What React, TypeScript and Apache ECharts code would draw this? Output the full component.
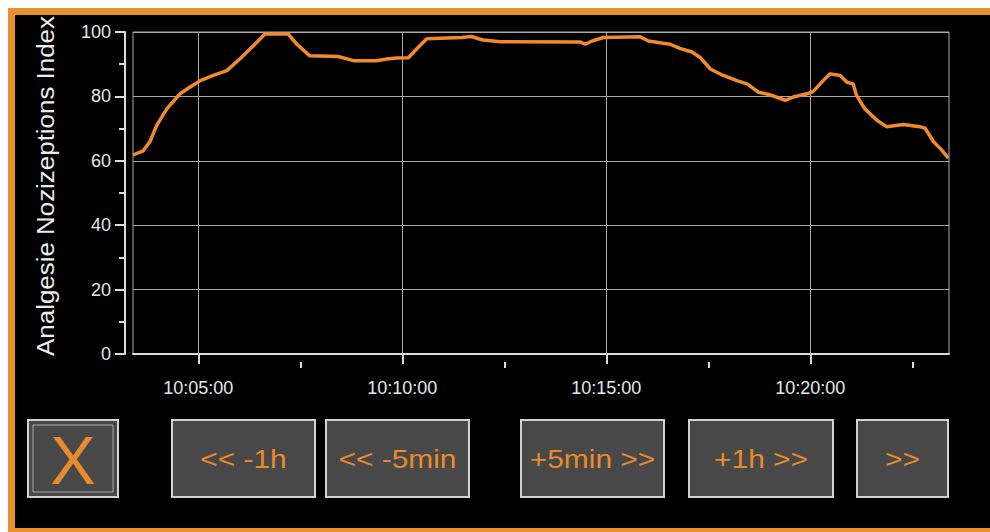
import React, { useEffect, useRef } from "react";
import * as echarts from "echarts";

// ---- data ----
const sampleTimes = [
  "10:03:24", "10:03:39", "10:03:49", "10:03:59", "10:04:14", "10:04:33", "10:04:48",
  "10:05:03", "10:05:22", "10:05:42", "10:06:01", "10:06:21", "10:06:38", "10:07:12",
  "10:07:25", "10:07:44", "10:08:26", "10:08:48", "10:09:22", "10:09:37", "10:09:52",
  "10:10:09", "10:10:21", "10:10:36", "10:11:27", "10:11:42", "10:11:52", "10:11:59",
  "10:12:24", "10:14:21", "10:14:29", "10:14:39", "10:14:56", "10:15:50", "10:16:02",
  "10:16:24", "10:16:34", "10:16:48", "10:17:06", "10:17:18", "10:17:33", "10:17:52",
  "10:18:12", "10:18:27", "10:18:44", "10:19:01", "10:19:23", "10:19:35", "10:19:55",
  "10:20:04", "10:20:19", "10:20:29", "10:20:44", "10:20:54", "10:21:03", "10:21:08",
  "10:21:20", "10:21:38", "10:21:52", "10:22:17", "10:22:41", "10:22:49", "10:23:01",
  "10:23:13", "10:23:23",
];
const aniValues = [
  61.8, 63.1, 66.0, 71.1, 76.2, 80.8, 82.9,
  84.9, 86.5, 88.0, 91.6, 95.7, 99.4, 99.4,
  96.2, 92.6, 92.4, 91.1, 91.1, 91.6, 91.9,
  92.0, 94.7, 97.9, 98.3, 98.6, 97.9, 97.5,
  97.0, 96.9, 96.2, 97.2, 98.3, 98.5, 97.2,
  96.5, 96.2, 94.9, 93.8, 92.1, 88.5, 86.5,
  84.9, 83.9, 81.3, 80.5, 78.8, 79.8, 80.8,
  81.5, 84.9, 87.0, 86.5, 84.4, 83.9, 80.3,
  76.2, 72.6, 70.6, 71.3, 70.6, 70.1, 66.0,
  63.4, 60.8,
];
const axisStart = "10:03:24";
const axisEnd = "10:23:24";
const majorTickTimes = ["10:05:00", "10:10:00", "10:15:00", "10:20:00"];
const minorTickTimes = ["10:07:30", "10:12:30", "10:17:30", "10:22:30"];
const yMin = 0;
const yMax = 100;
const yStep = 20;
const yAxisTitle = "Analgesie Nozizeptions Index";
const closeLabel = "X";
const navLabels = ["<< -1h", "<< -5min", "+5min >>", "+1h >>", ">>"];

// ---- helpers ----
const toSec = (t: string) => {
  const [h, m, s] = t.split(":").map(Number);
  return h * 3600 + m * 60 + s;
};
const pad = (n: number) => (n < 10 ? "0" + n : "" + n);
const fmtTime = (v: number) => {
  const r = Math.round(v);
  const h = Math.floor(r / 3600);
  const m = Math.floor((r % 3600) / 60);
  const s = r % 60;
  return pad(h) + ":" + pad(m) + ":" + pad(s);
};

const ORANGE = "#e8902c";
const TEXT_ORANGE = "#e98a2b";
const AXIS = "#dcdcdc";
const GRID = "#a9a9a9";
const BTN_FILL = "#484848";
const BTN_STROKE = "#d2d2d2";
const FONT = "'Liberation Sans', Arial, sans-serif";

export default function App() {
  const ref = useRef<HTMLDivElement>(null);

  useEffect(() => {
    if (!ref.current) return;
    const chart = echarts.init(ref.current, undefined, { renderer: "svg" });

    const navBoxes = [
      { x: 164, w: 143 },
      { x: 318, w: 143 },
      { x: 513, w: 143 },
      { x: 681, w: 144 },
      { x: 849, w: 91 },
    ];
    const btnY = 412;
    const btnH = 77;

    const graphics: any[] = [
      {
        type: "text",
        x: 37,
        y: 178,
        rotation: Math.PI / 2,
        scaleX: 1.08,
        z: 60,
        style: {
          text: yAxisTitle,
          fill: "#ececec",
          font: "normal 24px " + FONT,
          align: "center",
          verticalAlign: "middle",
        },
      },
      {
        type: "rect",
        shape: { x: 20, y: btnY, width: 90, height: btnH },
        style: { fill: BTN_FILL, stroke: BTN_STROKE, lineWidth: 2 },
        z: 50,
      },
      {
        type: "rect",
        shape: { x: 25, y: btnY + 5, width: 80, height: btnH - 10 },
        style: { fill: "none", stroke: "#a8a8a8", lineWidth: 1 },
        z: 51,
      },
      {
        type: "text",
        x: 65,
        y: btnY + btnH / 2 + 1,
        z: 52,
        style: {
          text: closeLabel,
          fill: TEXT_ORANGE,
          font: "normal 68px " + FONT,
          align: "center",
          verticalAlign: "middle",
        },
      },
    ];
    navLabels.forEach((label, i) => {
      const b = navBoxes[i];
      graphics.push({
        type: "rect",
        shape: { x: b.x, y: btnY, width: b.w, height: btnH },
        style: { fill: BTN_FILL, stroke: BTN_STROKE, lineWidth: 2 },
        z: 50,
      });
      graphics.push({
        type: "text",
        x: b.x + b.w / 2,
        y: btnY + btnH / 2 + 1,
        scaleX: 1.15,
        z: 52,
        style: {
          text: label,
          fill: TEXT_ORANGE,
          font: "normal 26px " + FONT,
          align: "center",
          verticalAlign: "middle",
        },
      });
    });

    const xMin = toSec(axisStart);
    const xMax = toSec(axisEnd);
    const majors = majorTickTimes.map(toSec);
    const minors = minorTickTimes.map(toSec);

    chart.setOption({
      animation: false,
      backgroundColor: "#000000",
      grid: {
        left: 125,
        right: 41,
        top: 24,
        bottom: 178,
        show: true,
        borderColor: GRID,
        borderWidth: 1,
        backgroundColor: "transparent",
      },
      xAxis: [
        {
          type: "value",
          min: xMin,
          max: xMax,
          position: "bottom",
          offset: 8,
          axisLine: { show: true, lineStyle: { color: AXIS, width: 2 } },
          axisTick: {
            show: true,
            customValues: majors,
            length: 10,
            lineStyle: { color: AXIS, width: 2 },
          },
          axisLabel: {
            show: true,
            customValues: majors,
            formatter: (v: number) => fmtTime(v),
            color: "#e6e6e6",
            fontSize: 18,
            fontFamily: FONT,
            margin: 17,
          },
          splitLine: { show: false },
        },
        {
          type: "value",
          min: xMin,
          max: xMax,
          position: "bottom",
          offset: 8,
          axisLine: { show: false },
          axisTick: {
            show: true,
            customValues: minors,
            length: 6,
            lineStyle: { color: AXIS, width: 2 },
          },
          axisLabel: { show: false },
          splitLine: { show: false },
        },
      ],
      yAxis: {
        type: "value",
        min: yMin,
        max: yMax,
        interval: yStep,
        position: "left",
        offset: 8,
        axisLine: { show: true, lineStyle: { color: AXIS, width: 2 } },
        axisTick: { show: true, length: 10, lineStyle: { color: AXIS, width: 2 } },
        minorTick: { show: true, splitNumber: 2, length: 6, lineStyle: { color: AXIS, width: 2 } },
        axisLabel: { color: "#e6e6e6", fontSize: 18, fontFamily: FONT, margin: 14 },
        splitLine: { show: true, lineStyle: { color: GRID, width: 1 } },
      },
      graphic: graphics,
      series: [
        {
          type: "line",
          xAxisIndex: 0,
          yAxisIndex: 0,
          data: sampleTimes.map((t, i) => [toSec(t), aniValues[i]]),
          showSymbol: false,
          symbol: "none",
          lineStyle: { color: "#f08a2a", width: 3.5 },
          clip: true,
          z: 5,
          markLine: {
            silent: true,
            symbol: "none",
            z: 1,
            label: { show: false },
            lineStyle: { color: GRID, width: 1, type: "solid" },
            data: majors.map((v) => ({ xAxis: v })),
          },
        },
      ],
    });

    return () => chart.dispose();
  }, []);

  const abs = (s: React.CSSProperties): React.CSSProperties => ({
    position: "absolute",
    pointerEvents: "none",
    ...s,
  });

  return (
    <div
      style={{
        position: "fixed",
        left: 0,
        top: 0,
        width: 990,
        height: 532,
        background: "#fff",
        overflow: "hidden",
      }}
    >
      <div style={abs({ left: 8, top: 8, width: 982, height: 524, background: "#000" })} />
      <div ref={ref} style={abs({ left: 8, top: 8, width: 982, height: 524 })} />
      <div style={abs({ left: 8, top: 8, width: 982, height: 7, background: ORANGE })} />
      <div style={abs({ left: 8, top: 8, width: 7, height: 524, background: ORANGE })} />
      <div style={abs({ left: 8, top: 528, width: 982, height: 4, background: ORANGE })} />
    </div>
  );
}
